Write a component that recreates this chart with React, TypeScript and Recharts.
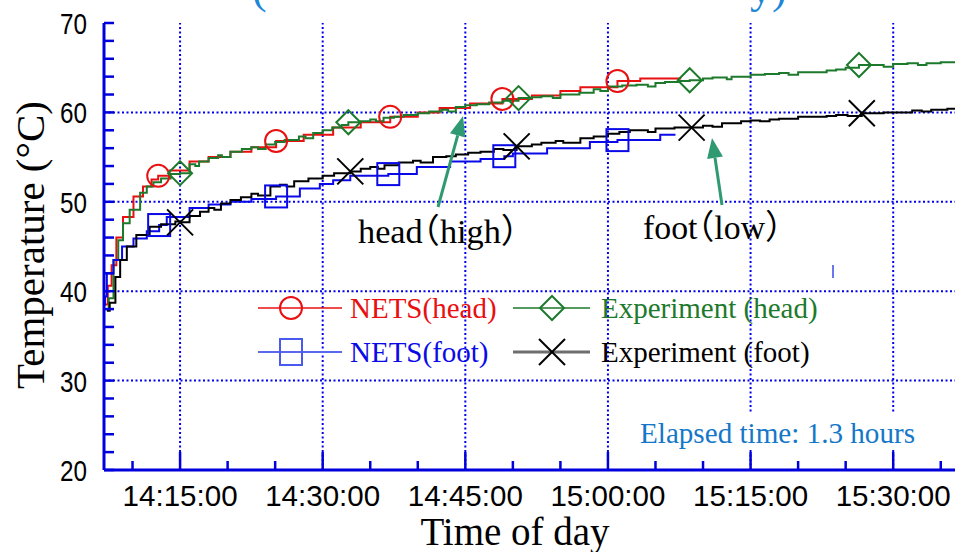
import { LineChart, Line, XAxis, YAxis, ReferenceLine, Legend } from 'recharts';

const AXIS = '#0000dd';
const GRID = '#0000ee';
const RED = '#e81010';
const GREEN = '#1d7a2c';
const BLUE = '#0a0ae8';
const BLACK = '#000000';
const ARROW = '#2f9a72';

// time is minutes after 14:00
const xTicks = [10, 15, 20, 25, 30, 35, 40, 45, 50, 55, 60, 65, 70, 75, 80, 85, 90, 95];
const xGrid = [15, 30, 45, 60, 75, 90];
const yTicks = [20, 22, 24, 26, 28, 30, 32, 34, 36, 38, 40, 42, 44, 46, 48, 50, 52, 54, 56, 58, 60, 62, 64, 66, 68, 70];
const yGrid = [30, 40, 50, 60];

const netsHead: [number, number][] = [
  [7.0, 38.5], [7.4, 40.6], [7.8, 42.9], [8.3, 46.0], [9.0, 48.3], [10.1, 50.6], [11.1, 51.7],
  [12.0, 52.5], [12.7, 52.9], [13.9, 53.5], [16.0, 54.5], [18.0, 55.0], [20.3, 55.6], [22.5, 56.1],
  [25.1, 56.8], [28.0, 57.5], [31.1, 58.3], [34.0, 58.9], [37.1, 59.5], [40.0, 60.0], [42.3, 60.5],
  [45.5, 61.0], [48.9, 61.5], [52.0, 61.9], [55.0, 62.4], [57.1, 62.8], [61.0, 63.5], [63.4, 63.8],
  [67.6, 63.9],
];
const netsHeadMarks = [12.7, 25.1, 37.1, 48.9, 61.0];

const expHead: [number, number][] = [
  [7.2, 38.0], [7.5, 39.2], [8.0, 43.5], [8.5, 45.7], [9.0, 47.6], [9.7, 49.1], [10.8, 51.0],
  [11.5, 51.7], [12.2, 52.2], [13.0, 52.6], [14.0, 53.1], [15.0, 53.2], [16.0, 54.2], [16.6, 54.0],
  [17.0, 54.5], [18.0, 54.9], [19.0, 55.2], [19.4, 55.0], [20.3, 55.6], [21.5, 55.9], [22.5, 56.1],
  [23.2, 55.9], [24.0, 56.4], [25.0, 56.7], [26.0, 56.9], [27.5, 57.3], [28.2, 57.1], [29.0, 57.7],
  [30.0, 58.0], [31.0, 58.3], [32.0, 58.6], [32.7, 58.9], [34.0, 59.0], [35.0, 59.2], [35.6, 59.0],
  [36.4, 59.4], [37.5, 59.5], [38.5, 59.7], [40.0, 59.9], [41.2, 60.1], [42.5, 60.3], [43.2, 60.1],
  [44.0, 60.6], [45.0, 60.8], [46.2, 60.9], [47.5, 61.1], [49.0, 61.3], [50.6, 61.6], [52.0, 61.7],
  [53.0, 61.8], [54.2, 61.6], [55.0, 62.0], [57.0, 62.2], [58.5, 62.6], [59.2, 62.4], [60.0, 62.9],
  [61.5, 63.0], [63.0, 63.1], [64.2, 62.9], [65.0, 63.3], [66.0, 63.4], [67.5, 63.5], [68.6, 63.6],
  [70.0, 63.8], [71.0, 63.9], [72.5, 63.7], [73.0, 64.0], [75.0, 64.2], [76.5, 64.3], [78.0, 64.4],
  [79.0, 64.2], [80.0, 64.5], [81.6, 64.5], [83.0, 64.7], [84.0, 64.8], [85.0, 65.0], [86.4, 65.3],
  [88.0, 65.3], [89.0, 65.1], [90.0, 65.4], [91.5, 65.5], [92.6, 65.3], [93.5, 65.5], [95.0, 65.6],
  [96.5, 65.6],
];
const expHeadMarks = [15.0, 32.7, 50.6, 68.6, 86.4];

const netsFoot: [number, number][] = [
  [7.0, 38.5], [7.1, 39.4], [7.3, 42.0], [8.0, 43.5], [8.9, 45.0], [10.1, 45.9], [11.5, 46.7],
  [12.8, 47.4], [13.6, 48.3], [16.0, 49.3], [18.0, 49.7], [20.3, 50.0], [22.5, 50.3], [25.1, 50.6],
  [27.6, 51.5], [29.7, 52.0], [31.1, 52.4], [32.9, 52.9], [36.9, 53.1], [39.9, 53.9], [43.4, 54.5],
  [46.6, 54.8], [49.1, 55.1], [50.0, 55.4], [53.6, 56.0], [58.1, 56.7], [61.0, 56.9], [65.5, 57.5],
  [67.1, 57.5],
];
const netsFootMarks = [12.8, 25.1, 36.9, 49.1, 61.0];

const expFoot: [number, number][] = [
  [7.3, 37.8], [7.6, 38.7], [8.2, 41.6], [8.7, 43.5], [9.4, 45.0], [10.4, 46.3], [11.8, 47.2],
  [13.0, 47.5], [14.5, 47.8], [15.0, 47.7], [16.0, 48.4], [17.1, 48.9], [18.0, 49.3], [18.6, 49.1],
  [19.3, 49.8], [20.3, 50.2], [21.4, 50.5], [22.5, 50.9], [23.2, 50.7], [24.5, 51.7], [25.5, 51.9],
  [26.2, 51.7], [27.0, 52.3], [28.5, 52.6], [30.0, 52.9], [31.2, 53.2], [32.9, 53.4], [34.0, 53.7],
  [35.0, 53.9], [35.8, 53.7], [36.5, 54.1], [38.0, 54.4], [39.5, 54.6], [40.3, 54.4], [41.6, 55.0],
  [43.0, 55.1], [44.0, 55.3], [45.3, 55.5], [46.6, 55.6], [48.0, 55.9], [49.0, 55.8], [50.4, 56.2],
  [52.0, 56.4], [53.0, 56.6], [54.5, 56.8], [55.3, 56.6], [57.1, 57.1], [58.5, 57.3], [60.0, 57.6],
  [61.2, 57.8], [62.3, 58.0], [63.5, 58.0], [64.2, 57.8], [65.0, 58.2], [67.0, 58.3], [68.8, 58.3],
  [70.0, 58.5], [71.0, 58.4], [72.0, 58.8], [74.0, 59.0], [75.0, 59.1], [76.0, 59.0], [77.0, 59.2],
  [78.0, 59.3], [80.0, 59.5], [81.6, 59.5], [83.0, 59.6], [84.0, 59.7], [85.2, 59.6], [86.7, 59.9],
  [88.0, 59.9], [89.0, 60.0], [90.5, 60.0], [92.0, 60.2], [93.0, 60.1], [94.0, 60.3], [95.7, 60.4],
  [96.5, 60.4],
];
const expFootMarks = [15.0, 32.9, 50.4, 68.8, 86.7];

type Kind = 'circle' | 'diamond' | 'square' | 'cross';

const toRows = (pts: [number, number][], marks: number[]) =>
  pts.map(([t, v]) => ({ t, v, mark: marks.includes(t) }));

const series = [
  { name: 'NETS(head)', color: RED, kind: 'circle' as Kind, data: toRows(netsHead, netsHeadMarks), legendLine: RED, legendWidth: 1.5 },
  { name: 'Experiment (head)', color: GREEN, kind: 'diamond' as Kind, data: toRows(expHead, expHeadMarks), legendLine: GREEN, legendWidth: 1.5 },
  { name: 'NETS(foot)', color: BLUE, kind: 'square' as Kind, data: toRows(netsFoot, netsFootMarks), legendLine: '#5a68ee', legendWidth: 2 },
  { name: 'Experiment (foot)', color: BLACK, kind: 'cross' as Kind, data: toRows(expFoot, expFootMarks), legendLine: '#6e6e6e', legendWidth: 3 },
];

const SERIF = '"Liberation Serif", "Times New Roman", serif';
const SANS = '"Liberation Sans", Arial, sans-serif';

function Marker({ kind, cx, cy, color, tall }: { kind: Kind; cx: number; cy: number; color: string; tall?: boolean }) {
  switch (kind) {
    case 'circle':
      return <circle cx={cx} cy={cy} r={11} fill="none" stroke={color} strokeWidth={2} />;
    case 'diamond':
      return <polygon points={`${cx},${cy - 12} ${cx + 12},${cy} ${cx},${cy + 12} ${cx - 12},${cy}`} fill="none" stroke={color} strokeWidth={2} />;
    case 'square':
      return <rect x={cx - 11} y={cy - (tall ? 13 : 11)} width={22} height={tall ? 26 : 22} fill="none" stroke={color} strokeWidth={2} />;
    default:
      return (
        <g stroke={color} strokeWidth={2}>
          <line x1={cx - 13} y1={cy - 13} x2={cx + 13} y2={cy + 13} />
          <line x1={cx - 13} y1={cy + 13} x2={cx + 13} y2={cy - 13} />
        </g>
      );
  }
}

const dotFor = (kind: Kind, color: string) => (p: any) => {
  const { cx, cy, payload, index } = p;
  if (!payload || !payload.mark || cx == null || cy == null) return <g key={`d${index}`} />;
  return (
    <g key={`d${index}`}>
      <Marker kind={kind} cx={cx} cy={cy} color={color} />
    </g>
  );
};

const fmtTime = (m: number) => `${14 + Math.floor(m / 60)}:${String(m % 60).padStart(2, '0')}:00`;

const BottomTick = (p: any) => {
  const { x, y, payload } = p;
  const major = payload.value % 15 === 0;
  return (
    <g>
      <line x1={x} x2={x} y1={y} y2={y - (major ? 18 : 9)} stroke={AXIS} strokeWidth={2.5} />
      {major && (
        <text x={x} y={y + 36} textAnchor="middle" fontSize={30} fontFamily={SANS} fill="#000" textLength={115} lengthAdjust="spacingAndGlyphs">
          {fmtTime(payload.value)}
        </text>
      )}
    </g>
  );
};

const TopTick = (p: any) => {
  const { x, y, payload } = p;
  const major = payload.value % 15 === 0;
  return <line x1={x} x2={x} y1={y} y2={y + (major ? 18 : 10)} stroke={AXIS} strokeWidth={2.5} />;
};

const LeftTick = (p: any) => {
  const { x, y, payload } = p;
  const major = payload.value % 10 === 0;
  return (
    <g>
      <line x1={x} x2={x + 10} y1={y} y2={y} stroke={AXIS} strokeWidth={2.5} />
      {major && (
        <text x={x - 17} y={y + 11} textAnchor="end" fontSize={30} fontFamily={SANS} fill="#000" textLength={27} lengthAdjust="spacingAndGlyphs">
          {payload.value}
        </text>
      )}
    </g>
  );
};

const RightTick = (p: any) => {
  const { x, y } = p;
  return <line x1={x} x2={x - 7} y1={y} y2={y} stroke={AXIS} strokeWidth={2.5} />;
};

const legendCols = [
  { left: 0, lineFrom: 8, lineTo: 92, mark: 41, text: 100 },
  { left: 255, lineFrom: 8, lineTo: 85, mark: 47, text: 96 },
];

// keep the legend in series order (row by row)
const renderLegend = () => (
  <div style={{ position: 'relative', width: 600, height: 92 }}>
    {series.map((s, i) => {
      const col = legendCols[i % 2];
      const row = Math.floor(i / 2);
      return (
        <div key={s.name} style={{ position: 'absolute', left: col.left, top: row * 44, height: 48, width: 340 }}>
          <svg width={100} height={48} style={{ position: 'absolute', left: 0, top: 0 }}>
            <line x1={col.lineFrom} x2={col.lineTo} y1={24} y2={24} stroke={s.legendLine} strokeWidth={s.legendWidth} />
            <Marker kind={s.kind} cx={col.mark} cy={24} color={s.kind === 'square' ? '#4a5aee' : s.color} tall />
          </svg>
          <span style={{ position: 'absolute', left: col.text, top: 0, lineHeight: '48px', fontSize: 29, fontFamily: SERIF, color: s.color, whiteSpace: 'nowrap' }}>
            {s.name}
          </span>
        </div>
      );
    })}
  </div>
);

export default function App() {
  return (
    <div style={{ position: 'absolute', left: 0, top: 0, width: 955, height: 552, overflow: 'hidden', background: '#fff' }}>
      <LineChart width={958} height={552} margin={{ top: 23, right: 3, bottom: 32, left: 0 }}>
        <XAxis
          xAxisId={0}
          dataKey="t"
          type="number"
          domain={[7, 96.5]}
          allowDataOverflow
          ticks={xTicks}
          interval={0}
          height={50}
          tickSize={0}
          tickMargin={0}
          tickLine={false}
          axisLine={{ stroke: AXIS, strokeWidth: 3 }}
          tick={BottomTick}
        />
        <XAxis
          xAxisId="top"
          orientation="top"
          dataKey="t"
          type="number"
          domain={[7, 96.5]}
          allowDataOverflow
          ticks={xTicks}
          interval={0}
          height={0}
          tickSize={0}
          tickMargin={0}
          tickLine={false}
          axisLine={{ stroke: AXIS, strokeWidth: 3 }}
          tick={TopTick}
        />
        <YAxis
          yAxisId={0}
          type="number"
          domain={[20, 70]}
          allowDataOverflow
          ticks={yTicks}
          interval={0}
          width={104}
          tickSize={0}
          tickMargin={0}
          tickLine={false}
          axisLine={{ stroke: AXIS, strokeWidth: 3 }}
          tick={LeftTick}
        />
        <YAxis
          yAxisId="right"
          orientation="right"
          type="number"
          domain={[20, 70]}
          allowDataOverflow
          ticks={yTicks}
          interval={0}
          width={0}
          tickSize={0}
          tickMargin={0}
          tickLine={false}
          axisLine={{ stroke: AXIS, strokeWidth: 3 }}
          tick={RightTick}
        />
        {xGrid.map((v) => (
          <ReferenceLine key={`gx${v}`} x={v} stroke={GRID} strokeWidth={2} strokeDasharray="2 2.5" />
        ))}
        {yGrid.map((v) => (
          <ReferenceLine key={`gy${v}`} y={v} stroke={GRID} strokeWidth={2} strokeDasharray="2 2.5" />
        ))}
        {series.map((s) => (
          <Line
            key={s.name}
            name={s.name}
            data={s.data}
            dataKey="v"
            type="stepAfter"
            stroke={s.color}
            strokeWidth={2}
            dot={dotFor(s.kind, s.color)}
            activeDot={false}
            isAnimationActive={false}
          />
        ))}
        <Legend
          verticalAlign="middle"
          align="center"
          content={renderLegend}
          wrapperStyle={{ position: 'absolute', left: 250, top: 284, width: 600, height: 92 }}
        />
      </LineChart>

      <svg width={955} height={552} style={{ position: 'absolute', left: 0, top: 0, pointerEvents: 'none' }}>
        {/* title above the frame, cropped by the picture's top edge */}
        <text x={252} y={3} fontSize={44} fontFamily={SERIF} fill="#1b87d6">(</text>
        <text x={750} y={3} fontSize={44} fontFamily={SERIF} fill="#1b87d6">y)</text>
        <line x1={833} x2={833} y1={265} y2={278} stroke="#6a78ee" strokeWidth={2} />

        <line x1={438} y1={207} x2={457.7} y2={135.3} stroke={ARROW} strokeWidth={3} />
        <polygon points="463,116 465.4,137.4 450,133.2" fill={ARROW} />
        <line x1={722} y1={205} x2={715} y2={157.8} stroke={ARROW} strokeWidth={3} />
        <polygon points="712,138 722.9,156.6 707.1,159" fill={ARROW} />

        <text x={358} y={243} fontSize={34} fontFamily={`${SERIF}, "Noto Sans CJK JP"`} fill="#000" textLength={160} lengthAdjust="spacingAndGlyphs" style={{ fontFeatureSettings: '"halt"' }}>
          head（high）
        </text>
        <text x={643} y={239} fontSize={34} fontFamily={`${SERIF}, "Noto Sans CJK JP"`} fill="#000" textLength={139} lengthAdjust="spacingAndGlyphs" style={{ fontFeatureSettings: '"halt"' }}>
          foot（low）
        </text>

        <rect x={632} y={412} width={292} height={38} fill="#fff" />
        <text x={640} y={443} fontSize={29} fontFamily={SERIF} fill="#1577c8" textLength={275} lengthAdjust="spacingAndGlyphs">
          Elapsed time: 1.3 hours
        </text>

        <text transform="translate(44,245) rotate(-90)" textAnchor="middle" fontSize={41} fontFamily={SERIF} fill="#000">
          Temperature (°C)
        </text>
        <text x={515} y={545} textAnchor="middle" fontSize={39} fontFamily={SERIF} fill="#000">
          Time of day
        </text>
      </svg>
    </div>
  );
}
